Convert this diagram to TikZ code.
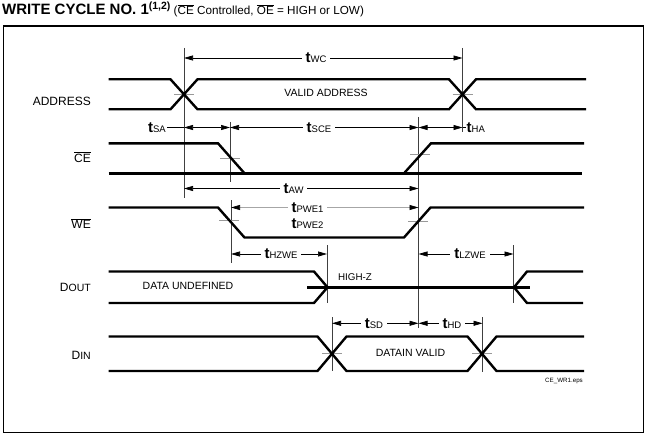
\documentclass[tikz,border=0pt]{standalone}
\usepackage{fontspec}
\setmainfont{Liberation Sans}
\usetikzlibrary{arrows.meta}
\newcommand\tlab[1]{{\fontsize{15}{15}\selectfont\bfseries t}{\fontsize{9.5}{9.5}\selectfont #1}}
\newcommand\ovl[1]{$\overline{\mbox{#1}}$}
\begin{document}
\begin{tikzpicture}[x=1pt,y=-1pt,
  sig/.style={line width=2.4pt, line join=miter, line cap=butt},
  refl/.style={line width=0.6pt, black!75},
  tickm/.style={line width=0.6pt, black!40},
  dim/.style={line width=0.7pt, {Triangle[length=9pt,width=5pt,color=black]}-{Triangle[length=9pt,width=5pt,color=black]}},
  lead/.style={line width=0.7pt},
  tl/.style={fill=white, inner xsep=4pt, inner ysep=1pt},
  sname/.style={anchor=base east, inner sep=0pt, font=\fontsize{12}{12}\selectfont},
  inlab/.style={inner sep=0pt, font=\fontsize{10.5}{11}\selectfont}
]
\useasboundingbox (0,0) rectangle (646,436);
\fill[white] (0,0) rectangle (646,436);

% title and frame
\node[anchor=base west, inner sep=0pt] (title) at (2,15)
  {{\fontsize{15}{15}\selectfont\bfseries WRITE CYCLE NO. 1\textsuperscript{(1,2)}}
   {\fontsize{11.7}{12}\selectfont (\ovl{CE} Controlled, \ovl{OE} = HIGH or LOW)}};
\draw[line width=1.3pt] (3.5,26) rectangle (643.5,432.5);

% signal names
\node[sname] (nA) at (91,105.5) {ADDRESS};
\node[sname] (nCE) at (91,162) {\ovl{CE}};
\node[sname] (nWE) at (91,228.5) {\ovl{WE}};
\node[sname] (nDO) at (91,291) {D{\fontsize{10.5}{10.5}\selectfont OUT}};
\node[sname] (nDI) at (91,359.5) {D{\fontsize{10.5}{10.5}\selectfont IN}};

% reference lines
\draw[refl] (184,48) -- (184,198);
\draw[refl] (462.5,48) -- (462.5,132);
\draw[refl] (230,122) -- (230,182);
\draw[refl] (231,200) -- (231,263);
\draw[refl] (418.5,117) -- (418.5,328);
\draw[refl] (327,245) -- (327,303);
\draw[refl] (513.5,245) -- (513.5,303);
\draw[refl] (332,317) -- (332,371);
\draw[refl] (482.5,317) -- (482.5,372);

% ticks
\draw[tickm] (174,94.3) -- (194,94.3);
\draw[tickm] (452.5,94.3) -- (472.5,94.3);
\draw[tickm] (220,158.3) -- (240,158.3);
\draw[tickm] (410,154) -- (430,154);
\draw[tickm] (219,220) -- (239,220);
\draw[tickm] (408,221) -- (428,221);
\draw[tickm] (322,353.7) -- (342,353.7);
\draw[tickm] (472,353.7) -- (492,353.7);

% ADDRESS
\draw[sig] (108.5,79.3) -- (170.5,79.3) -- (197.5,109.3) -- (449,109.3) -- (476,79.3) -- (586,79.3);
\draw[sig] (108.5,109.3) -- (170.5,109.3) -- (197.5,79.3) -- (449,79.3) -- (476,109.3) -- (586,109.3);
\node[inlab] (va) at (326,92.5) {VALID ADDRESS};

% CE
\draw[sig] (108.5,143.3) -- (218,143.3) -- (244.5,173.3) -- (404,173.3) -- (431,143.3) -- (584,143.3);
\draw[sig] (108.5,173.3) -- (582,173.3);

% WE
\draw[sig] (108.5,207.5) -- (218,207.5) -- (244.5,237.5) -- (404,237.5) -- (430.5,207.5) -- (584,207.5);

% DOUT
\draw[sig] (108.5,271.5) -- (314,271.5) -- (327.5,287.3) -- (314,303) -- (108.5,303);
\draw[sig] (307,287.3) -- (530,287.3);
\draw[sig] (583,271.5) -- (527,271.5) -- (514,287.3) -- (527,303) -- (583,303);
\node[inlab] (du) at (188,285.5) {DATA UNDEFINED};
\node[inlab, font=\fontsize{9.8}{10}\selectfont] (hz) at (355,277) {HIGH-Z};

% DIN
\draw[sig] (108.5,336.5) -- (317.5,336.5) -- (346.5,371) -- (467.5,371) -- (496.5,336.5) -- (584,336.5);
\draw[sig] (108.5,371) -- (317.5,371) -- (346.5,336.5) -- (467.5,336.5) -- (496.5,371) -- (584,371);
\node[inlab] (dv) at (410.5,353) {DATAIN VALID};
\node[anchor=east, inner sep=0pt, font=\fontsize{6.2}{6.5}\selectfont] (eps) at (583,380.7) {CE\_WR1.eps};

% dimensions
\draw[dim] (184,58) -- (462.5,58);
\node[tl] (lwc) at (316,58) {\tlab{WC}};

\draw[dim] (184,127.5) -- (230,127.5);
\draw[dim] (230,127.5) -- (418.5,127.5);
\draw[dim] (418.5,127.5) -- (462.5,127.5);
\node[tl] (lsce) at (319,127.5) {\tlab{SCE}};
\node[inner xsep=1pt, inner ysep=1pt] (lsa) at (157,127.5) {\tlab{SA}};
\draw[lead] (lsa.east) -- (184,127.5);
\node[anchor=west, inner xsep=1pt, inner ysep=1pt] (lha) at (465.5,127.5) {\tlab{HA}};
\draw[lead] (462.5,127.5) -- (lha.west);

\draw[dim] (184,188.5) -- (418.5,188.5);
\node[tl] (law) at (293.5,188.5) {\tlab{AW}};

\draw[dim, draw=black!35] (231,207.5) -- (418.5,207.5);
\node[tl] (lpwe1) at (307.5,207.5) {\tlab{PWE1}};
\node[inner sep=1pt] (lpwe2) at (307.5,223.5) {\tlab{PWE2}};

\draw[dim] (231,254) -- (327,254);
\node[tl] (lhz) at (281,254) {\tlab{HZWE}};
\draw[dim] (418.5,254) -- (513.5,254);
\node[tl] (llz) at (470,254) {\tlab{LZWE}};

\draw[dim] (332,323.3) -- (418.5,323.3);
\node[tl] (lsd) at (374,323.3) {\tlab{SD}};
\draw[dim] (418.5,323.3) -- (482.5,323.3);
\node[tl] (lhd) at (452,323.3) {\tlab{HD}};
\end{tikzpicture}
\end{document}
